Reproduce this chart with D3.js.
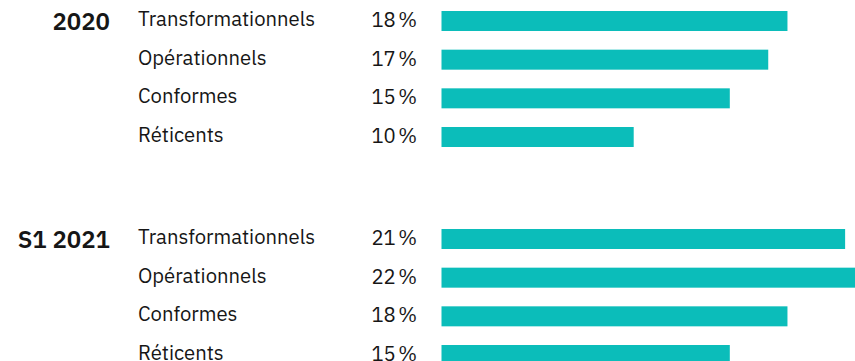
<!DOCTYPE html>
<html>
<head>
<meta charset="utf-8">
<script src="https://cdn.jsdelivr.net/npm/d3@7"></script>
<style>
  body { margin: 0; background: #fff; }
  svg { display: block; font-family: "IBM Plex Sans", Roboto, "Liberation Sans", sans-serif; }
</style>
</head>
<body>
<svg id="chart" width="855" height="361"></svg>
<script>
// data
const periods = ['2020', 'S1 2021'];
const categories = ['Transformationnels', 'Opérationnels', 'Conformes', 'Réticents'];
const values2020 = [18, 17, 15, 10];
const values2021 = [21, 22, 18, 15];

const series = [values2020, values2021];

const barHeight = 20;

const svg = d3.select('#chart');

// centre of the first bar of each period
const yGroup = d3.scalePoint()
  .domain(periods)
  .range([21, 239]);

// rows inside a period
const yRow = d3.scalePoint()
  .domain(categories)
  .range([0, 116]);

const x = d3.scaleLinear()
  .domain([0, 22])
  .range([441.5, 441.5 + 22 * 19.22]);

const groups = svg.selectAll('g.period')
  .data(periods.map((p, i) => ({ period: p, values: series[i] })))
  .enter()
  .append('g')
  .attr('class', 'period')
  .attr('transform', d => `translate(0, ${yGroup(d.period)})`);

groups.append('text')
  .attr('x', 110)
  .attr('y', 9)
  .attr('text-anchor', 'end')
  .attr('fill', '#161616')
  .style('font-size', '24px')
  .style('font-weight', 600)
  .text(d => d.period);

const rows = groups.selectAll('g.row')
  .data(d => categories.map((c, i) => ({ cat: c, value: d.values[i] })))
  .enter()
  .append('g')
  .attr('class', 'row')
  .attr('transform', d => `translate(0, ${yRow(d.cat)})`);

rows.append('text')
  .attr('x', 138)
  .attr('y', 5)
  .attr('fill', '#161616')
  .style('font-size', '20.3px')
  .text(d => d.cat);

rows.append('text')
  .attr('x', 417)
  .attr('y', 6)
  .attr('text-anchor', 'end')
  .attr('fill', '#161616')
  .style('font-size', '20.3px')
  .text(d => d.value + '\u202F%');

rows.append('rect')
  .attr('x', x(0))
  .attr('y', -barHeight / 2)
  .attr('width', d => x(d.value) - x(0))
  .attr('height', barHeight)
  .attr('fill', '#0bbdba');
</script>
</body>
</html>
